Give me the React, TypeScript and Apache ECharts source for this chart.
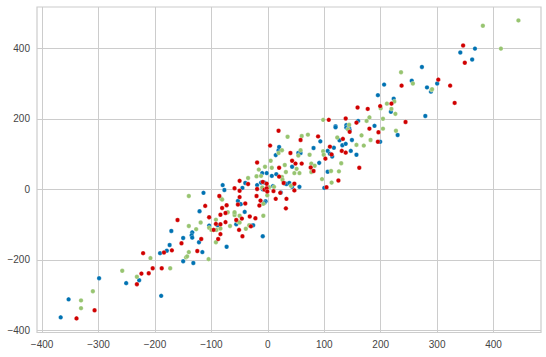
import React, { useEffect, useRef } from "react";
import * as echarts from "echarts";

const xTicks = [-400, -300, -200, -100, 0, 100, 200, 300, 400];
const yTicks = [-400, -200, 0, 200, 400];

const blueSeries: number[][] = [
  [-367, -363], [-353, -312], [-299, -252], [-251, -266], [-228, -258], [-189, -302],
  [-191, -181], [-179, -174], [-174, -158], [-171, -118], [-150, -138], [-150, -204],
  [-134, -122], [-135, -130], [-134, -137], [-132, -209], [-122, -150], [-116, -178],
  [-121, -62], [-114, -10], [-104, -103], [-89, -102], [-80, 12], [-77, -2],
  [-73, -163], [-56, -99], [-53, -33], [-48, -42], [-45, 4], [-41, -64],
  [-40, 18], [-30, -103], [-26, -102], [-19, 12], [-10, 46], [-12, 19],
  [-9, 0], [-9, -133], [-6, 19], [-4, -34], [-2, 46], [-6, -38],
  [7, 38], [9, 9], [14, 97], [15, 43], [19, 111], [20, 120],
  [23, -9], [30, 17], [33, 15], [38, 18], [43, 64], [43, 7],
  [54, 103], [58, 103], [56, 7], [81, 117], [91, 75], [93, 136],
  [100, 4], [106, 109], [106, 50], [110, 101], [114, 93], [117, 118],
  [120, 179], [120, 176], [127, 139], [132, 125], [138, 129], [139, 182],
  [139, 175], [142, 172], [144, 174], [145, 168], [147, 109], [149, 140],
  [157, 98], [160, 194], [189, 180], [195, 267], [199, 135], [206, 297],
  [218, 220], [223, 257], [230, 154], [255, 308], [273, 347], [279, 208],
  [282, 289], [289, 277], [300, 300], [341, 388], [362, 368], [367, 399],
];

const greenSeries: number[][] = [
  [-331, -315], [-331, -337], [-310, -289], [-258, -231], [-232, -248], [-208, -195],
  [-173, -224], [-145, -193], [-143, -190], [-140, -178], [-140, -19], [-140, -104],
  [-127, -113], [-119, -94], [-105, -198], [-104, -109], [-100, -115], [-92, -86],
  [-92, -150], [-91, -115], [-84, -111], [-83, -26], [-81, -29], [-71, -65],
  [-67, -104], [-59, -67], [-59, -73], [-59, -65], [-53, -92], [-50, -94],
  [-50, -75], [-39, -112], [-35, 32], [-33, -102], [-20, 37], [-16, 56],
  [-12, 38], [-10, 5], [-8, -41], [-8, -75], [-5, 64], [-1, -17],
  [2, 6], [5, 81], [7, 61], [11, 7], [19, 103], [25, 111],
  [25, 35], [26, 27], [30, 69], [32, 49], [35, 149], [41, 10],
  [47, 46], [51, 58], [54, 96], [56, 46], [58, 111], [60, 151],
  [71, 155], [74, 98], [77, 73], [77, 49], [83, 67], [96, 29],
  [98, 197], [98, 108], [99, 98], [112, 52], [113, 19], [123, 147],
  [126, 51], [130, 74], [142, 170], [144, 183], [157, 126], [166, 153],
  [170, 124], [175, 194], [180, 204], [182, 140], [200, 230], [204, 200],
  [204, 172], [211, 243], [219, 228], [224, 249], [226, 214], [227, 166],
  [236, 332], [257, 300], [290, 282], [291, 284], [381, 464], [413, 399],
  [444, 479],
];

const redSeries: number[][] = [
  [-339, -366], [-307, -343], [-232, -269], [-224, -239], [-221, -181], [-211, -238],
  [-204, -224], [-188, -224], [-184, -179], [-170, -173], [-160, -87], [-153, -153],
  [-125, -175], [-118, -141], [-111, -47], [-104, -79], [-96, -115], [-92, -98],
  [-88, -141], [-86, -19], [-84, -99], [-84, -127], [-84, -72], [-81, -53],
  [-75, -67], [-75, -93], [-73, -45], [-59, 3], [-56, -87], [-53, -43],
  [-50, 24], [-50, -4], [-50, -22], [-51, -115], [-46, -83], [-45, -133],
  [-40, -40], [-35, 15], [-32, -77], [-30, -105], [-22, -82], [-20, -19],
  [-19, 76], [-19, 1], [-15, -46], [-13, -32], [-9, 21], [-6, -1],
  [-2, 3], [-2, 16], [-1, -6], [4, 124], [10, -5], [14, -27],
  [19, 166], [20, 61], [20, 36], [22, -10], [28, 18], [32, -54],
  [33, -27], [40, 103], [43, 81], [47, 16], [47, -3], [49, 73],
  [58, 140], [60, 73], [76, 62], [81, 52], [89, 150], [102, 87],
  [104, 6], [108, 197], [110, 121], [113, 99], [125, 25], [131, 109],
  [133, 143], [138, 104], [138, 201], [145, 163], [157, 189], [159, 232],
  [162, 61], [177, 228], [180, 172], [195, 135], [196, 162], [199, 236],
  [219, 243], [237, 294], [244, 191], [302, 311], [323, 294], [331, 245],
  [346, 408], [349, 359],
];

const seriesNames = ["a", "b", "c"];
const seriesColors = ["#0072B2", "#97C470", "#D00000"];

export default function App() {
  const ref = useRef<HTMLDivElement>(null);
  useEffect(() => {
    if (!ref.current) return;
    const chart = echarts.init(ref.current, undefined, { renderer: "svg" });
    const datasets = [blueSeries, greenSeries, redSeries];
    const labelStyle = {
      color: "#444444",
      fontFamily: "Liberation Sans",
      fontSize: 10,
    };
    const fmt = (v: number) => (v < 0 ? "\u2212" + Math.abs(v) : String(v));
    chart.setOption({
      animation: false,
      backgroundColor: "#ffffff",
      grid: { left: 37, top: 7, width: 504, height: 325.5, show: true, borderColor: "#cccccc", borderWidth: 1.2, backgroundColor: "#ffffff" },
      xAxis: {
        type: "value",
        min: -409,
        max: 484,
        axisLine: { show: false },
        axisTick: { show: false, customValues: xTicks },
        axisLabel: { ...labelStyle, margin: 7, customValues: xTicks, formatter: fmt },
        splitLine: { show: true, lineStyle: { color: "#cccccc", width: 1 } },
      },
      yAxis: {
        type: "value",
        min: -406,
        max: 517,
        axisLine: { show: false },
        axisTick: { show: false, customValues: yTicks },
        axisLabel: { ...labelStyle, margin: 7, customValues: yTicks, formatter: fmt },
        splitLine: { show: true, lineStyle: { color: "#cccccc", width: 1 } },
      },
      series: datasets.map((d, i) => ({
        name: seriesNames[i],
        type: "scatter",
        data: d,
        symbol: "circle",
        symbolSize: 4.5,
        itemStyle: { color: seriesColors[i], borderColor: "#ffffff", borderWidth: 0.3, opacity: 1 },
      })),
    });
    return () => chart.dispose();
  }, []);
  return <div ref={ref} style={{ width: 546, height: 357, position: "absolute", left: 0, top: 0 }} />;
}
